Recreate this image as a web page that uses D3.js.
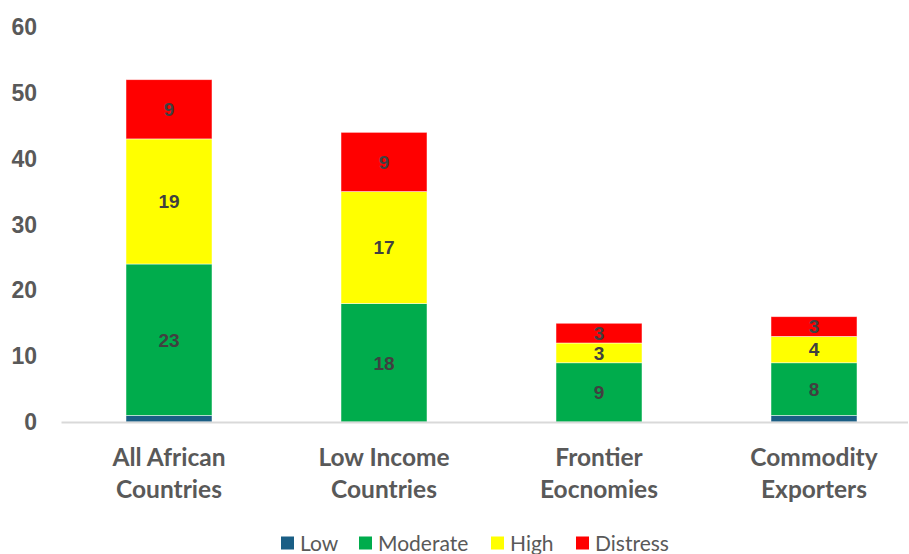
<!DOCTYPE html>
<html>
<head>
<meta charset="utf-8">
<script src="https://cdn.jsdelivr.net/npm/d3@7"></script>
<style>
  html, body { margin: 0; padding: 0; background: #fff; }
  svg { display: block; }
</style>
</head>
<body>
<svg id="chart" width="909" height="554"></svg>
<script>
// Debt distress risk ratings by country group
const categories = [["All African", "Countries"], ["Low Income", "Countries"], ["Frontier", "Eocnomies"], ["Commodity", "Exporters"]];
const seriesNames = ["Low", "Moderate", "High", "Distress"];
const low      = [1, 0, 0, 1];
const moderate = [23, 18, 9, 8];
const high     = [19, 17, 3, 4];
const distress = [9, 9, 3, 3];
const yTicks = [0, 10, 20, 30, 40, 50, 60];
const colors = ["#1a5e85", "#00ac4c", "#ffff00", "#ff0000"];
const labelled = [false, true, true, true];

const svg = d3.select("#chart");
const W = 909, H = 554;
const margin = { left: 61.5, right: -12.5, top: 27, bottom: 132 };

const keys = categories.map(c => c.join(" "));
const rows = keys.map((k, i) => ({ key: k, Low: low[i], Moderate: moderate[i], High: high[i], Distress: distress[i] }));

const x = d3.scaleBand().domain(keys).range([margin.left, W - margin.right]).paddingInner(0.6).paddingOuter(0.3);
const y = d3.scaleLinear().domain([0, 60]).range([H - margin.bottom, margin.top]);

const stack = d3.stack().keys(seriesNames)(rows);

// y tick labels
svg.append("g")
  .selectAll("text").data(yTicks).join("text")
  .attr("x", 37).attr("y", d => y(d)).attr("dy", "0.35em")
  .attr("text-anchor", "end")
  .attr("font-family", "Liberation Sans, Arial, sans-serif")
  .attr("font-weight", "bold").attr("font-size", 23)
  .attr("fill", "#595959")
  .text(d => d);

// stacked bars
const layers = svg.append("g").selectAll("g").data(stack).join("g")
  .attr("fill", (d, i) => colors[i]);
layers.selectAll("rect").data(d => d).join("rect")
  .attr("x", d => x(d.data.key))
  .attr("width", x.bandwidth())
  .attr("y", d => y(d[1]))
  .attr("height", d => y(d[0]) - y(d[1]))
  .attr("stroke", "#ffffff").attr("stroke-width", 0.8).attr("stroke-opacity", 0.6);

// value labels
stack.forEach((layer, i) => {
  if (!labelled[i]) return;
  svg.append("g").selectAll("text").data(layer.filter(d => d[1] - d[0] > 0)).join("text")
    .attr("x", d => x(d.data.key) + x.bandwidth() / 2)
    .attr("y", d => y((d[0] + d[1]) / 2))
    .attr("dy", "0.36em")
    .attr("text-anchor", "middle")
    .attr("font-family", "Liberation Sans, Arial, sans-serif")
    .attr("font-weight", "bold").attr("font-size", 19)
    .attr("fill", "#404040")
    .text(d => d[1] - d[0]);
});

// baseline
svg.append("line")
  .attr("x1", margin.left).attr("x2", 908)
  .attr("y1", y(0) + 0.5).attr("y2", y(0) + 0.5)
  .attr("stroke", "#d9d9d9").attr("stroke-width", 2);

// category labels
const cat = svg.append("g").selectAll("text").data(categories).join("text")
  .attr("text-anchor", "middle")
  .attr("font-family", "Lato, Inter, sans-serif")
  .attr("font-weight", "bold").attr("font-size", 24.5)
  .attr("fill", "#595959");
cat.each(function (d, i) {
  const t = d3.select(this);
  const cx = x(keys[i]) + x.bandwidth() / 2;
  d.forEach((line, j) => {
    t.append("tspan").attr("x", cx).attr("y", 466 + j * 32).text(line);
  });
});

// legend
const legendX = [281, 359, 491, 576];
const lg = svg.append("g").selectAll("g").data(seriesNames).join("g")
  .attr("transform", (d, i) => `translate(${legendX[i]},543)`);
lg.append("rect").attr("x", 0).attr("y", -6.5).attr("width", 13).attr("height", 13)
  .attr("fill", (d, i) => colors[i]);
lg.append("text").attr("x", 19).attr("y", 551 - 543)
  .attr("font-family", "Lato, Inter, sans-serif").attr("font-size", 21)
  .attr("fill", "#595959").text(d => d);
</script>
</body>
</html>
